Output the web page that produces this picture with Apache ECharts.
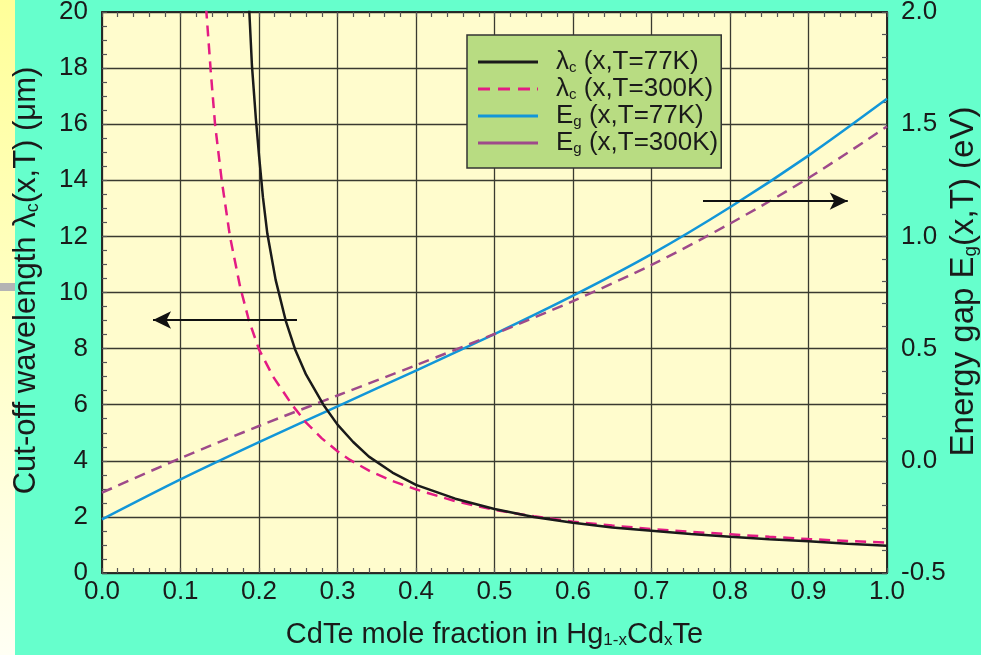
<!DOCTYPE html>
<html><head><meta charset="utf-8">
<script src="https://cdn.jsdelivr.net/npm/echarts@6/dist/echarts.min.js"></script>
<style>html,body{margin:0;padding:0;background:#66FFCC;}#c{width:981px;height:655px;}</style>
</head><body><div id="c"></div>
<script>
// ---- data ----
const xLambda77 = [0.186, 0.1877, 0.191, 0.196, 0.200, 0.205, 0.2106, 0.2212, 0.234, 0.246, 0.26, 0.282, 0.30, 0.32, 0.34, 0.37, 0.40, 0.45, 0.50, 0.55, 0.60, 0.65, 0.70, 0.75, 0.80, 0.85, 0.90, 0.95, 1.00];
const lambda77 = [20.6, 20.0, 18.1, 16.2, 14.9, 13.4, 12.1, 10.45, 9.0, 7.97, 7.07, 6.0, 5.29, 4.67, 4.15, 3.58, 3.14, 2.65, 2.28, 2.0, 1.79, 1.62, 1.51, 1.39, 1.29, 1.205, 1.13, 1.045, 0.97];
const xLambda300 = [0.131, 0.133, 0.1385, 0.144, 0.1525, 0.163, 0.176, 0.187, 0.200, 0.218, 0.242, 0.26, 0.28, 0.30, 0.316, 0.3414, 0.37, 0.40, 0.45, 0.50, 0.55, 0.60, 0.65, 0.70, 0.75, 0.80, 0.85, 0.90, 0.95, 1.00];
const lambda300 = [20.8, 20.0, 17.9, 16.0, 14.0, 12.0, 10.2, 9.02, 7.97, 7.0, 6.0, 5.36, 4.80, 4.34, 4.03, 3.63, 3.28, 2.98, 2.56, 2.25, 2.02, 1.83, 1.69, 1.57, 1.47, 1.38, 1.29, 1.21, 1.14, 1.08];
const xEg = [0.0, 0.1, 0.2, 0.3, 0.4, 0.5, 0.6, 0.7, 0.8, 0.9, 1.0];
const eg77 = [-0.261, -0.083, 0.083, 0.243, 0.402, 0.565, 0.736, 0.921, 1.13, 1.36, 1.613];
const eg300 = [-0.142, 0.012, 0.155, 0.291, 0.426, 0.565, 0.712, 0.873, 1.057, 1.26, 1.49];
const seriesNames = ['λc (x,T=77K)', 'λc (x,T=300K)', 'Eg (x,T=77K)', 'Eg (x,T=300K)'];
// annotation arrows: [x0, y0, x1, y1] in left-axis units
const arrowLeft = [0.2484, 9.02, 0.065, 9.02];
const arrowRight = [0.7656, 13.26, 0.950, 13.26];

const FONT = "'Liberation Sans', Arial, sans-serif";
const pairs = (xs, ys) => xs.map((x, i) => [x, ys[i]]);

function richSet(big, small, lh, slh) {
  return {
    t: {fontFamily: FONT, fontSize: big, color: '#1a1a1a', lineHeight: lh, verticalAlign: 'bottom'},
    s: {fontFamily: FONT, fontSize: small, color: '#1a1a1a', lineHeight: slh, verticalAlign: 'bottom'},
    g: {width: 13}
  };
}
const legendText = {
  'λc (x,T=77K)': '{g|}{t|λ}{s|c}{t| (x,T=77K)}',
  'λc (x,T=300K)': '{g|}{t|λ}{s|c}{t| (x,T=300K)}',
  'Eg (x,T=77K)': '{g|}{t|E}{s|g}{t| (x,T=77K)}',
  'Eg (x,T=300K)': '{g|}{t|E}{s|g}{t| (x,T=300K)}'
};
const solidIcon = 'path://M0,0h60v3h-60z';
const dashIcon = 'path://M0,0h12v3h-12z M20,0h12v3h-12z M40,0h12v3h-12z M59,0h1v3h-1z';

const chart = echarts.init(document.getElementById('c'), null, {renderer: 'canvas'});
const gridLine = {show: true, lineStyle: {color: '#3a3a30', width: 1.3}};
const minorTickStyle = {color: '#555', width: 1.2};
const axisLab = {fontFamily: FONT, fontSize: 26, color: '#1a1a1a'};
const axLine = {show: true, onZero: false, lineStyle: {color: '#222', width: 1.5}};

chart.setOption({
  animation: false,
  backgroundColor: '#66FFCC',
  grid: {left: 102, right: 94, top: 12, bottom: 82, outerBoundsMode: 'none', containLabel: false,
         show: true, backgroundColor: '#FFFCCD', borderColor: '#222', borderWidth: 1.5},
  graphic: [
    {type: 'rect', left: 0, top: 0, shape: {width: 15, height: 655}, z: -1,
     style: {fill: new echarts.graphic.LinearGradient(0, 0, 0, 1, [{offset: 0, color: '#FFFF99'}, {offset: 1, color: '#FFFFF4'}])}},
    {type: 'rect', left: 0, top: 283, shape: {width: 15, height: 8}, z: -1, style: {fill: '#B4B4B4'}}
  ],
  legend: {
    orient: 'vertical', left: 467, top: 35,
    backgroundColor: '#B8DC82', borderColor: '#333', borderWidth: 1.5,
    padding: [14, 3, 12, 11], itemWidth: 60, itemHeight: 3, itemGap: 1,
    textStyle: {fontFamily: FONT, fontSize: 26, color: '#1a1a1a', rich: richSet(26, 15, 26, 7)},
    formatter: name => legendText[name],
    data: [
      {name: seriesNames[0], icon: solidIcon},
      {name: seriesNames[1], icon: dashIcon},
      {name: seriesNames[2], icon: solidIcon},
      {name: seriesNames[3], icon: solidIcon}
    ]
  },
  xAxis: [{
    type: 'value', min: 0, max: 1, interval: 0.1, position: 'bottom',
    axisLine: axLine,
    axisTick: {show: true, inside: true, length: 5, lineStyle: minorTickStyle},
    minorTick: {show: true, splitNumber: 5, length: 5, lineStyle: minorTickStyle},
    splitLine: gridLine,
    axisLabel: Object.assign({margin: 6, formatter: v => v.toFixed(1)}, axisLab),
    name: '{t|CdTe mole fraction in Hg}{s|1-x}{t|Cd}{s|x}{t|Te}',
    nameLocation: 'middle', nameGap: 46,
    nameTextStyle: {rich: richSet(29, 17, 30, 10)}
  }, {
    type: 'value', min: 0, max: 1, interval: 0.1, position: 'top',
    axisLine: axLine,
    axisTick: {show: true, inside: true, length: 5, lineStyle: minorTickStyle},
    minorTick: {show: true, splitNumber: 5, length: 5, lineStyle: minorTickStyle},
    splitLine: {show: false}, axisLabel: {show: false}
  }],
  yAxis: [{
    type: 'value', min: 0, max: 20, interval: 2, position: 'left',
    axisLine: axLine,
    axisTick: {show: true, inside: true, length: 5, lineStyle: minorTickStyle},
    minorTick: {show: true, splitNumber: 4, length: 5, lineStyle: minorTickStyle},
    splitLine: gridLine,
    axisLabel: Object.assign({margin: 14}, axisLab),
    name: '{t|Cut-off wavelength λ}{s|c}{t|(x,T) (μm)}',
    nameLocation: 'middle', nameGap: 60,
    nameTextStyle: {rich: richSet(31, 18, 31, 10), padding: [0, 0, 0, 24]}
  }, {
    type: 'value', min: -0.5, max: 2.0, interval: 0.5, position: 'right',
    axisLine: axLine,
    axisTick: {show: true, inside: true, length: 5, lineStyle: minorTickStyle},
    minorTick: {show: true, splitNumber: 5, length: 5, lineStyle: minorTickStyle},
    splitLine: {show: false},
    axisLabel: Object.assign({margin: 14, formatter: v => v.toFixed(1)}, axisLab),
    name: '{t|Energy gap E}{s|g}{t|(x,T) (eV)}',
    nameLocation: 'middle', nameGap: 61, nameMoveOverlap: false,
    nameTextStyle: {rich: richSet(33, 19, 32, 10), padding: [0, 0, 0, 22]}
  }],
  series: [{
    name: seriesNames[0], type: 'line', xAxisIndex: 0, yAxisIndex: 0,
    data: pairs(xLambda77, lambda77), symbol: 'none', showSymbol: false, z: 5,
    color: '#1a1a1a', lineStyle: {color: '#1a1a1a', width: 2.5},
    markLine: {
      silent: true, symbol: ['none', 'arrow'], symbolSize: [13, 18],
      label: {show: false},
      lineStyle: {color: '#111', width: 2, type: 'solid'},
      data: [
        [{coord: [arrowLeft[0], arrowLeft[1]]}, {coord: [arrowLeft[2], arrowLeft[3]]}],
        [{coord: [arrowRight[0], arrowRight[1]]}, {coord: [arrowRight[2], arrowRight[3]]}]
      ]
    }
  }, {
    name: seriesNames[1], type: 'line', xAxisIndex: 0, yAxisIndex: 0,
    data: pairs(xLambda300, lambda300), symbol: 'none', showSymbol: false, z: 4,
    color: '#E31B84', lineStyle: {color: '#E31B84', width: 2.5, type: [11, 7]}
  }, {
    name: seriesNames[2], type: 'line', xAxisIndex: 0, yAxisIndex: 1,
    data: pairs(xEg, eg77), symbol: 'none', showSymbol: false, smooth: 0.3, z: 3,
    color: '#1296D8', lineStyle: {color: '#1296D8', width: 2.5}
  }, {
    name: seriesNames[3], type: 'line', xAxisIndex: 0, yAxisIndex: 1,
    data: pairs(xEg, eg300), symbol: 'none', showSymbol: false, smooth: 0.3, z: 3,
    color: '#9E4A8A', lineStyle: {color: '#9E4A8A', width: 2.5, type: [11, 7]}
  }]
});
</script></body></html>
